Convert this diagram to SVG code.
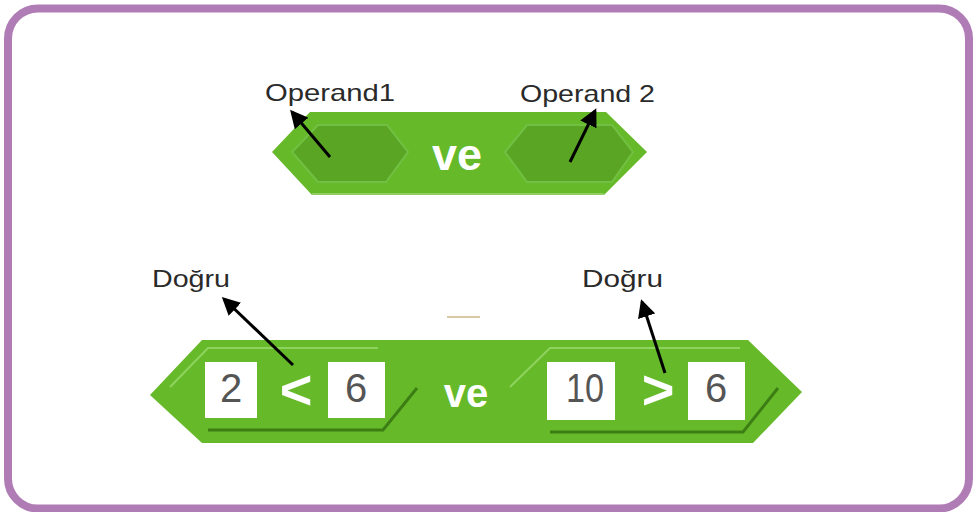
<svg xmlns="http://www.w3.org/2000/svg" width="973" height="512" viewBox="0 0 973 512">
<style>
.lbl{font-family:"Liberation Sans",Arial,sans-serif;font-size:24px;fill:#2a2a2a}
.ve{font-family:"Liberation Sans",Arial,sans-serif;font-weight:bold;fill:#fff}
.num{font-family:"Liberation Sans",Arial,sans-serif;font-size:40px;fill:#555}
.blk{fill:#66ba2a}
.slot{fill:#5aa624;stroke:#72c043;stroke-width:2}
.hi{stroke:#8fd35f;stroke-width:2;fill:none}
.sh{stroke:#3d7e14;stroke-width:3;fill:none}
.box{fill:#fff}
.arr{stroke:#000;stroke-width:3;fill:none;marker-end:url(#ah)}
</style>
<defs>
<marker id="ah" markerWidth="6" markerHeight="6" refX="5" refY="3" orient="auto" markerUnits="strokeWidth">
<path d="M0,0 L6,3 L0,6 z" fill="#000"/>
</marker>
</defs>
<rect x="8" y="8.5" width="961" height="500" rx="30" fill="#fff" stroke="#b07cb5" stroke-width="8"/>

<g id="block-top">
<polygon class="blk" points="272,152 310,112 606,112 647,152 604,195 312,195"/>
<line x1="312" y1="194" x2="604" y2="194" stroke="#8fcf62" stroke-width="2"/>
<polygon class="slot" points="292,152 318,125 387,125 408,152 386,182 318,182"/>
<polygon class="slot" points="505,152 527,125 612,125 633,152 612,182 527,182"/>
<text class="ve" x="457" y="170" font-size="45" text-anchor="middle">ve</text>
</g>

<g id="label-operand1"><text class="lbl" x="265" y="101" textLength="130" lengthAdjust="spacingAndGlyphs">Operand1</text></g>
<g id="label-operand2"><text class="lbl" x="520" y="102" textLength="135" lengthAdjust="spacingAndGlyphs">Operand 2</text></g>

<g id="block-bottom">
<polygon class="blk" points="150,395 202,340 748,340 802,392 753,443 202,443"/>
<path class="hi" d="M170,387 L208,348 L378,348"/>
<path class="sh" d="M417,388 L383,430 L208,430"/>
<path class="hi" d="M510,387 L550,348 L740,348"/>
<path class="sh" d="M778,388 L743,432 L550,432"/>
<rect class="box" x="205" y="362" width="52" height="56"/>
<text class="num" x="231" y="402" text-anchor="middle">2</text>
<text class="ve" x="296" y="409" font-size="56" text-anchor="middle">&lt;</text>
<rect class="box" x="328" y="362" width="57" height="56"/>
<text class="num" x="356" y="402" text-anchor="middle">6</text>
<text class="ve" x="466" y="407" font-size="40" text-anchor="middle">ve</text>
<rect class="box" x="547" y="362" width="68" height="58"/>
<text class="num" x="585" y="402" text-anchor="middle" textLength="38" lengthAdjust="spacingAndGlyphs">10</text>
<text class="ve" x="658" y="409" font-size="56" text-anchor="middle">&gt;</text>
<rect class="box" x="688" y="362" width="57" height="58"/>
<text class="num" x="716" y="402" text-anchor="middle">6</text>
</g>

<g id="label-dogru-left"><text class="lbl" x="152" y="287" textLength="78" lengthAdjust="spacingAndGlyphs">Doğru</text></g>
<g id="label-dogru-right"><text class="lbl" x="582" y="287" textLength="81" lengthAdjust="spacingAndGlyphs">Doğru</text></g>

<line x1="447" y1="317" x2="480" y2="317" stroke="#d9c9a6" stroke-width="2"/>

<g id="connectors">
<line class="arr" x1="330" y1="157" x2="292" y2="112"/>
<line class="arr" x1="570" y1="162" x2="595" y2="111"/>
<line class="arr" x1="293" y1="365" x2="224" y2="299"/>
<line class="arr" x1="665" y1="373" x2="642" y2="302"/>
</g>
</svg>
